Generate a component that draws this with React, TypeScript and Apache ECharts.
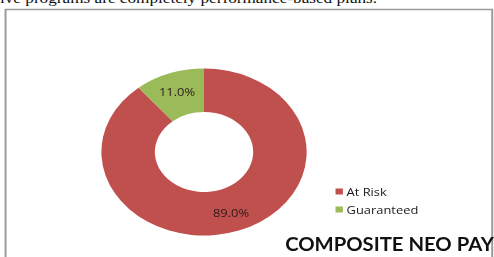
import React, { useEffect, useRef } from "react";
import * as echarts from "echarts";

const categories = ["At Risk", "Guaranteed"];
const values = [89.0, 11.0];
const colors = ["#C0504D", "#9BBB59"];
const chartTitle = "COMPOSITE NEO PAY";
const caption = "ive programs are completely performance-based plans.";

const SX = 1.229;
const W = 494 / SX;
const H = 257;

export default function App() {
  const ref = useRef<HTMLDivElement>(null);
  useEffect(() => {
    document.body.style.margin = "0";
    const chart = echarts.init(ref.current!, undefined, { renderer: "svg", width: W, height: H });
    chart.setOption({
      animation: false,
      backgroundColor: "#ffffff",
      graphic: [
        {
          type: "rect",
          shape: { x: 4.5, y: 9.5, width: 396, height: 300 },
          style: { fill: "none", stroke: "#9a9a9a", lineWidth: 1.6 },
          silent: true,
        },
        {
          type: "text",
          x: 0,
          y: -2,
          style: {
            text: caption,
            font: "14px 'Liberation Serif'",
            fill: "#111",
            verticalAlign: "middle",
          },
          silent: true,
        },
        {
          type: "text",
          x: 232,
          y: 243.5,
          scaleX: 0.868,
          style: {
            text: chartTitle,
            font: "bold 19px Lato",
            fill: "#111",
            verticalAlign: "middle",
          },
          silent: true,
        },
      ],
      legend: {
        orient: "vertical",
        left: 273,
        top: 186,
        padding: 0,
        itemWidth: 6,
        itemHeight: 6,
        itemGap: 7,
        icon: "rect",
        data: categories,
        textStyle: { fontSize: 10.5, color: "#1a1a1a", fontFamily: "'Open Sans'", padding: [0, 0, 0, -2] },
        selectedMode: false,
      },
      series: [
        {
          type: "pie",
          center: [166, 152],
          radius: [40, 83.5],
          startAngle: 90,
          clockwise: true,
          silent: true,
          color: colors,
          itemStyle: { borderWidth: 0 },
          label: {
            show: true,
            position: "inside",
            formatter: (p: any) => p.value.toFixed(1) + "%",
            fontSize: 10.5,
            fontFamily: "'Open Sans'",
            color: "#2a1a1a",
          },
          labelLine: { show: false },
          data: categories.map((c, i) => ({ name: c, value: values[i] })),
        },
      ],
    });
    return () => chart.dispose();
  }, []);
  return (
    <div style={{ position: "fixed", left: 0, top: 0, width: 494, height: H, overflow: "hidden", background: "#fff" }}>
      <div
        ref={ref}
        style={{ width: W, height: H, transform: `scaleX(${SX})`, transformOrigin: "0 0" }}
      />
    </div>
  );
}
